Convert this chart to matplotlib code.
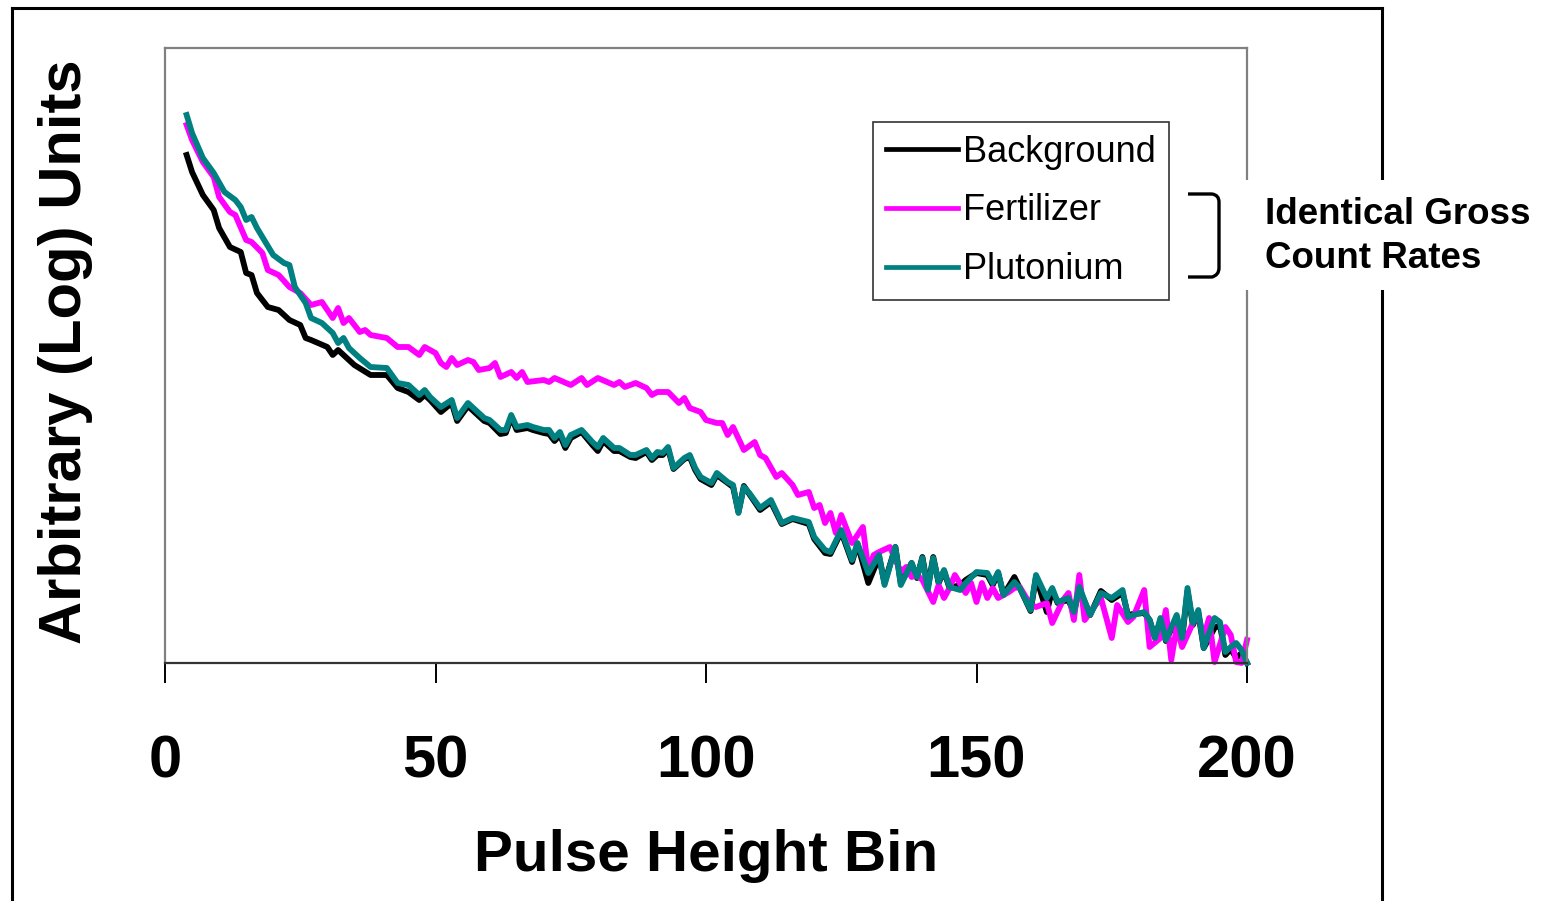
import matplotlib
matplotlib.use("Agg")
import matplotlib.pyplot as plt
from matplotlib.patches import Rectangle
from matplotlib.lines import Line2D
from matplotlib.path import Path
from matplotlib.patches import PathPatch

plt.rcParams['font.family'] = ['Liberation Sans', 'DejaVu Sans']

# ---------------- data (arbitrary log units) ----------------
bg_bins = [4, 5, 7, 9, 10, 12, 14, 15, 16, 17, 19, 21, 23, 25, 26, 27, 30, 31, 32, 35, 38, 41, 43, 45, 47, 48, 49, 51,
           53, 54, 56, 59, 60, 62, 63, 64, 65, 67, 68, 70, 71, 72, 73, 74, 75, 77, 79, 80, 81, 83, 84, 86, 87, 89, 90,
           91, 92, 93, 94, 96, 97, 98, 99, 101, 102, 104, 105, 106, 107, 108, 110, 112, 114, 116, 119, 120, 122, 123,
           125, 127, 128, 130, 132, 133, 135, 136, 138, 139, 140, 141, 142, 143, 144, 145, 147, 148, 150, 152, 153,
           154, 155, 157, 158, 160, 161, 163, 164, 165, 167, 168, 169, 171, 173, 175, 177, 178, 179, 181, 182, 183,
           184, 185, 187, 188, 189, 190, 191, 192, 194, 195, 196, 197, 198, 199, 200]
bg_vals = [508, 491, 468, 453, 435, 416, 411, 390, 388, 370, 356, 353, 343, 338, 325, 323, 316, 308, 313, 298, 288, 288,
           275, 271, 263, 268, 263, 251,
           260, 242, 257, 242, 240, 229, 230, 246, 233, 235, 233, 230, 229, 222, 228, 215, 225, 231, 218, 212, 222, 212,
           212, 206, 205, 211, 203, 208, 208, 214, 194, 204, 206, 193, 184, 178, 188, 180, 176, 151, 177, 169, 153, 161,
           139, 144, 139, 124, 110, 109, 131, 101, 119, 80, 106, 80, 116, 80, 100, 85, 106, 75, 106, 80, 92, 75, 78, 83,
           90, 88, 78, 90, 68, 86, 75, 52, 86, 51, 73, 60, 63, 50, 74, 48, 72, 63, 70, 48, 49, 50, 43, 25, 43, 22, 46,
           24, 72, 38, 50, 15, 35, 38, 8, 14, 5, 10, 0]

fe_bins = [4, 5, 7, 9, 10, 12, 13, 15, 16, 18, 19, 21, 23, 25, 27, 29, 31, 32, 33, 34, 36, 37, 38, 41, 43, 45, 47, 48,
           50, 51, 52, 53, 54, 56, 57, 58, 60, 61, 62, 64, 65, 66, 67, 70, 71, 72, 75, 77, 78, 80, 83, 84, 85, 87, 89,
           90, 91, 93, 95, 96, 97, 99, 100, 102, 103, 104, 105, 107, 109, 110, 111, 113, 114, 116, 117, 119, 120, 121,
           122, 123, 124, 125, 127, 129, 130, 131, 132, 134, 136, 137, 138, 139, 140, 142, 143, 144, 145, 146, 148,
           149, 150, 151, 152, 153, 154, 156, 157, 158, 160, 161, 163, 164, 166, 167, 168, 169, 170, 172, 173, 175,
           176, 178, 179, 181, 182, 184, 185, 186, 187, 188, 190, 191, 192, 193, 194, 196, 197, 198, 199, 200]
fe_vals = [538, 523, 501, 486, 466, 451, 448, 423, 421, 410, 393, 388, 376, 370, 358, 361, 345, 355, 340, 345, 331, 333,
           328, 325, 316, 316, 308, 316, 310, 300, 296, 305, 298, 303, 301, 293, 295, 300, 286, 291, 285, 291, 281, 283,
           281, 285, 278, 285, 278, 285, 278, 281, 276, 280, 275, 268, 271, 271, 260, 265, 255, 251, 243, 240, 240, 228,
           236, 213, 221, 208, 205, 186, 190, 178, 168, 171, 155, 158, 140, 150, 130, 148, 120, 136, 93, 108, 111, 116,
           91, 96, 86, 88, 83, 61, 78, 65, 75, 88, 70, 80, 61, 80, 65, 75, 65, 71, 75, 76, 58, 56, 60, 40, 63, 70, 43,
           88, 43, 58, 65, 25, 58, 41, 46, 73, 16, 25, 53, 3, 36, 16, 40, 48, 26, 45, 1, 36, 28, 1, 0, 23]

pu_bins = [4, 5, 7, 9, 11, 13, 14, 15, 16, 17, 18, 20, 22, 23, 24, 26, 27, 29, 31, 32, 33, 34, 36, 38, 41, 43, 45, 47,
           48, 49, 51, 53, 54, 56, 59, 60, 62, 63, 64, 65, 67, 68, 70, 71, 72, 73, 74, 75, 77, 79, 80, 81, 83, 84, 86,
           87, 89, 90, 91, 92, 93, 94, 96, 97, 98, 99, 101, 102, 104, 105, 106, 107, 108, 110, 112, 114, 116, 119, 120,
           122, 123, 125, 127, 128, 130, 132, 133, 135, 136, 138, 139, 140, 141, 142, 143, 144, 145, 147, 148, 150,
           152, 153, 154, 155, 157, 158, 160, 161, 163, 164, 165, 167, 168, 169, 171, 173, 175, 177, 178, 179, 181,
           182, 183, 184, 185, 187, 188, 189, 190, 191, 192, 194, 195, 196, 197, 198, 199, 200]
pu_vals = [548, 530, 505, 490, 471, 463, 456, 443, 446, 435, 426, 408, 400, 398, 376, 360, 345, 340, 330, 320, 325, 315,
           305, 296, 295, 280, 278, 268, 273, 266, 256, 263, 245, 260, 245, 243, 233, 233, 248, 236, 238, 236, 233, 233,
           225, 231, 218, 228, 233, 221, 216, 225, 215, 215, 208, 208, 213, 205, 211, 210, 216, 195, 205, 208, 195, 186,
           180, 190, 181, 178, 150, 176, 170, 155, 163, 140, 145, 141, 126, 113, 111, 133, 103, 120, 90, 108, 78, 116,
           78, 100, 86, 105, 73, 105, 81, 93, 76, 73, 80, 91, 90, 80, 91, 68, 81, 75, 53, 88, 65, 75, 61, 65, 51, 76,
           48, 70, 65, 73, 46, 48, 51, 43, 25, 45, 23, 48, 25, 75, 40, 53, 15, 45, 41, 11, 16, 20, 13, 0]

series_names = ["Background", "Fertilizer", "Plutonium"]
series_colors = ["#000000", "#FF00FF", "#008080"]
x_ticks = [0, 50, 100, 150, 200]

# ---------------- figure ----------------
W, H = 1554, 901
fig = plt.figure(figsize=(W / 100, H / 100), dpi=100)
fig.patch.set_facecolor("white")


def fx(px):
    return px / W


def fy(py):
    return 1 - py / H


ax = fig.add_axes([fx(165), fy(663), fx(1247) - fx(165), fy(48) - fy(663)])
lines = []
for b, v, c, n in zip([bg_bins, fe_bins, pu_bins], [bg_vals, fe_vals, pu_vals], series_colors, series_names):
    ln, = ax.plot(b, v, color=c, lw=4.2, label=n, solid_joinstyle="round", clip_on=False)
    lines.append(ln)

ax.set_xlim(0, 200)
ax.set_ylim(0, 615)
ax.set_yticks([])
ax.set_xticks(x_ticks)
ax.set_xticklabels([str(t) for t in x_ticks], fontsize=43, fontweight="bold")
ax.tick_params(axis="x", direction="out", length=14.4, width=1.4, color="black", pad=37)
for s in ["top", "right", "left"]:
    ax.spines[s].set_color("#808080")
    ax.spines[s].set_linewidth(1.6)
ax.spines["bottom"].set_color("#333333")
ax.spines["bottom"].set_linewidth(1.6)

fig.text(fx(706), fy(856), "Pulse Height Bin", fontsize=42, fontweight="bold", ha="center", va="center")
fig.text(fx(66), fy(352), "Arbitrary (Log) Units", fontsize=43, fontweight="bold", ha="center", va="center",
         rotation=90)

leg = ax.legend(handles=lines, loc="upper left", bbox_to_anchor=(fx(873), fy(122)),
                bbox_transform=fig.transFigure, fontsize=26, frameon=True, fancybox=False, shadow=False,
                borderaxespad=0, borderpad=0.35, handlelength=2.0, handletextpad=0.15, labelspacing=0.66)
leg.get_frame().set_edgecolor("black")
leg.get_frame().set_linewidth(1.2)
for h in leg.get_lines():
    h.set_linewidth(3.4)

# outer frame
frame_kw = dict(color="black", lw=2.2, transform=fig.transFigure, zorder=5)
fig.add_artist(Line2D([fx(12), fx(12)], [fy(8), -0.05], **frame_kw))
fig.add_artist(Line2D([fx(12), fx(1382)], [fy(8), fy(8)], **frame_kw))
fig.add_artist(Line2D([fx(1382), fx(1382)], [fy(8), -0.05], **frame_kw))

# white box behind annotation (interrupts lines)
fig.add_artist(Rectangle((fx(1240), fy(290)), fx(1554) - fx(1240), fy(180) - fy(290),
                         transform=fig.transFigure, facecolor="white", edgecolor="none", zorder=6))

# bracket
verts = [(fx(1188), fy(194)), (fx(1212), fy(194)), (fx(1219), fy(195)), (fx(1219), fy(202)),
         (fx(1219), fy(268)), (fx(1219), fy(275)), (fx(1212), fy(277)), (fx(1188), fy(277))]
codes = [Path.MOVETO, Path.LINETO, Path.CURVE3, Path.CURVE3, Path.LINETO, Path.CURVE3, Path.CURVE3, Path.LINETO]
fig.add_artist(PathPatch(Path(verts, codes), transform=fig.transFigure, facecolor="none",
                         edgecolor="black", lw=2.4, zorder=7))

fig.text(fx(1265), fy(214), "Identical Gross", fontsize=26.5, fontweight="bold", ha="left", va="center", zorder=8)
fig.text(fx(1265), fy(259), "Count Rates", fontsize=26.5, fontweight="bold", ha="left", va="center", zorder=8)

fig.savefig("out.png", dpi=100, facecolor="white")
